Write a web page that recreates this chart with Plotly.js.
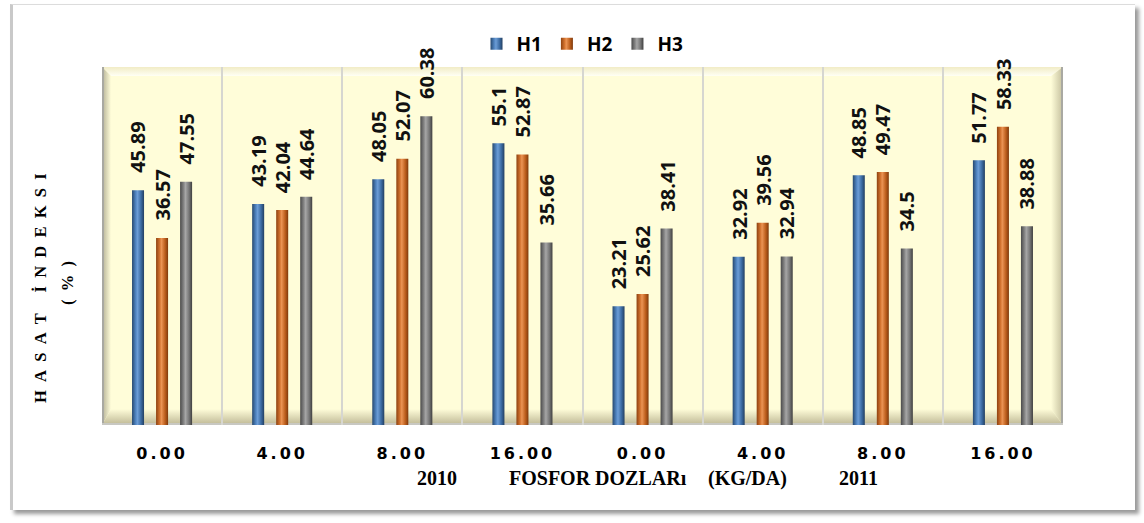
<!DOCTYPE html>
<html>
<head>
<meta charset="utf-8">
<script src="https://cdn.plot.ly/plotly-3.0.1.min.js"></script>
<style>
  html, body { margin: 0; padding: 0; background: #ffffff; }
  #frame {
    position: absolute; left: 10px; top: 4px; width: 1122px; height: 505px;
    background: #ffffff;
    border-top: 1px solid #dcdcdc;
    border-left: 3px solid #c9c9c9;
    box-shadow: 4px 4px 4px #9a9a9a;
  }
  #chart { position: absolute; left: 0; top: 0; width: 1144px; height: 523px; }
  .xtick text { letter-spacing: 3px; }
</style>
</head>
<body>
<div id="frame"></div>
<div id="chart"></div>
<script>
// Harvest index (%) by phosphorus dose, two seasons, three harvests
const doseLabels = ['0.00', '4.00', '8.00', '16.00', '0.00', '4.00', '8.00', '16.00'];
const groupIndex = [0, 1, 2, 3, 4, 5, 6, 7];
const h1 = [45.89, 43.19, 48.05, 55.1, 23.21, 32.92, 48.85, 51.77];
const h2 = [36.57, 42.04, 52.07, 52.87, 25.62, 39.56, 49.47, 58.33];
const h3 = [47.55, 44.64, 60.38, 35.66, 38.41, 32.94, 34.5, 38.88];
const seriesNames = ['H1', 'H2', 'H3'];
const seriesColors = ['#3F6FA6', '#C5641F', '#7C7C7C'];
const allSeries = [h1, h2, h3];

// Plot-area geometry in pixels
const PL = 102, PR = 1063, PT = 67, PB = 425;
const PW = PR - PL, PH = PB - PT;
const px2x = px => (px - PL) / PW;
const px2y = py => (PB - py) / PH;

// Bar layout: 3 slots per group, each slot 0.2 of a category wide
const BARGAP = 0.4, GROUPGAP = 0.5;
const slot = (1 - BARGAP) / allSeries.length;

// Beveled cream backdrop behind the plot area
const b = 9, fb = 16;
const backdropSvg = `<svg xmlns="http://www.w3.org/2000/svg" width="${PW}" height="${PH}" viewBox="0 0 ${PW} ${PH}" preserveAspectRatio="none">
<defs>
<linearGradient id="l" x1="0" x2="1" y1="0" y2="0"><stop offset="0" stop-color="#B3AF94"/><stop offset="1" stop-color="#FFFDD9"/></linearGradient>
<linearGradient id="r" x1="0" x2="1" y1="0" y2="0"><stop offset="0" stop-color="#FFFDD9"/><stop offset="1" stop-color="#C4BF9D"/></linearGradient>
<linearGradient id="t" x1="0" x2="0" y1="0" y2="1"><stop offset="0" stop-color="#F1ECC6"/><stop offset="1" stop-color="#FFFFF4"/></linearGradient>
<linearGradient id="f" x1="0" x2="0" y1="0" y2="1"><stop offset="0" stop-color="#FFFDD9"/><stop offset="1" stop-color="#BDB794"/></linearGradient>
</defs>
<rect x="0" y="0" width="${PW}" height="${PH}" fill="#FFFDD9"/>
<polygon points="0,0 ${PW},0 ${PW - b},${b} ${b},${b}" fill="url(#t)"/>
<polygon points="0,0 ${b},${b} ${b},${PH - fb} 0,${PH}" fill="url(#l)"/>
<polygon points="${PW},0 ${PW},${PH} ${PW - b - 3},${PH - fb} ${PW - b - 3},${b}" fill="url(#r)"/>
<polygon points="0,${PH} ${b},${PH - fb} ${PW - b - 3},${PH - fb} ${PW},${PH}" fill="url(#f)"/>
<rect x="0" y="0" width="2" height="${PH}" fill="#A9A9A2"/>
<rect x="${PW - 2}" y="0" width="2" height="${PH}" fill="#A9A9A2"/>
<rect x="0" y="${PH - 2}" width="${PW}" height="2" fill="#C8C8C2"/>
</svg>`;

const traces = allSeries.map((vals, i) => ({
  type: 'bar',
  name: seriesNames[i],
  x: groupIndex,
  y: vals,
  marker: { color: seriesColors[i], line: { width: 0 } },
  hoverinfo: 'x+y+name'
}));

// Rotated value labels sitting above each column
const valueLabels = [];
allSeries.forEach((vals, i) => {
  const off = (i - (allSeries.length - 1) / 2) * slot;
  vals.forEach((v, k) => {
    valueLabels.push({
      text: String(v), x: groupIndex[k] + off, y: v, xref: 'x', yref: 'y',
      textangle: -90, xanchor: 'center', yanchor: 'bottom', yshift: 15,
      showarrow: false,
      font: { family: 'Open Sans', size: 20, color: '#111111', weight: 'bold' }
    });
  });
});

const titleFont = { family: 'Liberation Serif', size: 20, color: '#000000', weight: 'bold' };
const yTitleFont = { family: 'Liberation Serif', size: 16.5, color: '#000000', weight: 'bold' };
const nb = '\u00a0';
const spaced = s => s.split('').map(c => c === ' ' ? nb : c).join(nb + nb);
const note = (text, px, py, font, angle) => ({
  text, x: px2x(px), y: px2y(py), xref: 'paper', yref: 'paper',
  xanchor: 'center', yanchor: 'middle', textangle: angle || 0, showarrow: false, font
});

const layout = {
  width: 1144, height: 523,
  margin: { l: PL, r: 1144 - PR, t: PT, b: 523 - PB },
  paper_bgcolor: 'rgba(0,0,0,0)',
  plot_bgcolor: 'rgba(0,0,0,0)',
  barmode: 'group',
  bargap: BARGAP,
  bargroupgap: GROUPGAP,
  showlegend: true,
  legend: {
    orientation: 'h', x: 0.5, xanchor: 'center', xref: 'paper',
    y: 1 - 44 / 523, yref: 'container', yanchor: 'middle',
    font: { family: 'Open Sans', size: 19, color: '#000000', weight: 'bold' },
    itemwidth: 30, traceorder: 'normal', bgcolor: 'rgba(0,0,0,0)'
  },
  xaxis: {
    range: [-0.5, 7.5],
    tickmode: 'array', tickvals: groupIndex, ticktext: doseLabels,
    ticks: 'outside', ticklen: 14, tickcolor: 'rgba(0,0,0,0)',
    tickfont: { family: 'DejaVu Sans', size: 16, color: '#000000', weight: 'bold' },
    showgrid: false, zeroline: false, showline: false,
    minor: { tickmode: 'array', tickvals: [0.5, 1.5, 2.5, 3.5, 4.5, 5.5, 6.5], showgrid: true, gridcolor: '#D6D6D0', gridwidth: 2, ticks: '' },
    fixedrange: true
  },
  yaxis: {
    range: [0, 70],
    showticklabels: false, showgrid: false, zeroline: false, showline: false, ticks: '',
    fixedrange: true
  },
  images: [{
    source: 'data:image/svg+xml;charset=utf-8,' + encodeURIComponent(backdropSvg),
    xref: 'paper', yref: 'paper', x: 0, y: 1, sizex: 1, sizey: 1,
    xanchor: 'left', yanchor: 'top', sizing: 'stretch', layer: 'below'
  }],
  annotations: [
    note(spaced('HASAT İNDEKSI'), 40, 288, yTitleFont, -90),
    note(spaced('(%)'), 67, 283, yTitleFont, -90),
    note('2010', 437, 478, titleFont),
    note('FOSFOR DOZLARı', 598, 478, titleFont),
    note('(KG/DA)', 747, 478, titleFont),
    note('2011', 858, 478, titleFont)
  ].concat(valueLabels)
};

// Cylinder-like shading for the columns
const shades = [
  ['#27496F', '#4F83BF', '#6C9DD6', '#3C6BA2', '#233F61'],
  ['#8E4210', '#D2722E', '#EB9454', '#BC5E1C', '#7E390C'],
  ['#4A4A4A', '#858585', '#A6A6A6', '#767676', '#3F3F3F']
];

Plotly.newPlot('chart', traces, layout, { staticPlot: true, displayModeBar: false }).then(gd => {
  const svg = gd.querySelector('svg.main-svg');
  const ns = 'http://www.w3.org/2000/svg';
  const defs = svg.querySelector('defs') || svg.insertBefore(document.createElementNS(ns, 'defs'), svg.firstChild);
  shades.forEach((stops, i) => {
    const g = document.createElementNS(ns, 'linearGradient');
    g.setAttribute('id', 'colShade' + i);
    g.setAttribute('x1', '0'); g.setAttribute('x2', '1');
    g.setAttribute('y1', '0'); g.setAttribute('y2', '0');
    const offs = [0, 0.3, 0.45, 0.75, 1];
    stops.forEach((c, k) => {
      const s = document.createElementNS(ns, 'stop');
      s.setAttribute('offset', offs[k]);
      s.setAttribute('stop-color', c);
      g.appendChild(s);
    });
    defs.appendChild(g);
  });
  gd.querySelectorAll('.barlayer .trace').forEach((tr, i) => {
    tr.querySelectorAll('.point path').forEach(p => { p.style.fill = 'url(#colShade' + i + ')'; });
  });
  gd.querySelectorAll('.legend .traces').forEach((tr, i) => {
    tr.querySelectorAll('.legendpoints path').forEach(p => { p.style.fill = 'url(#colShade' + i + ')'; });
  });
});
</script>
</body>
</html>
